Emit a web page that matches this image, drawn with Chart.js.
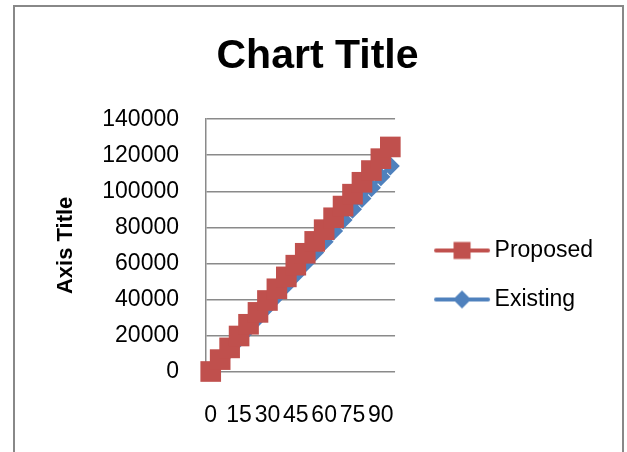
<!DOCTYPE html>
<html lang="en">

<head>
    <meta charset="UTF-8">
    <title>Chart Title</title>
    <script src="https://cdn.jsdelivr.net/npm/chart.js"></script>
    <style>
        body { margin: 0; background: #fff; overflow: hidden; }
        #wrap { position: relative; width: 627px; height: 452px; overflow: hidden; }
        #frame { position: absolute; left: 13px; top: 5px; width: 607px; height: 500px; border: 2px solid #888; }
        #myChart { position: absolute; left: 0; top: 0; }
    </style>
</head>

<body>
    <div id="wrap">
        <div id="frame"></div>
        <canvas id="myChart" width="627" height="452"></canvas>
    </div>
</body>

<script>
    // categories on the x axis, only every 3rd one gets a label
    const categories = ['0', '5', '10', '15', '20', '25', '30', '35', '40', '45',
        '50', '55', '60', '65', '70', '75', '80', '85', '90', '95'];
    const labelEvery = 3;

    const proposed = [0, 6600, 13100, 19700, 26200, 32800, 39400, 45900, 52500, 59000,
        65600, 72200, 78700, 85300, 91800, 98400, 105000, 111500, 118100, 124600];
    const existing = [0, 6000, 12000, 18000, 24000, 30000, 36000, 42000, 48000, 54000,
        60000, 66000, 72000, 78000, 84000, 90000, 96000, 102000, 108000, 114000];

    const yMin = 0;
    const yMax = 140000;
    const yStep = 20000;

    const red = '#C0504D';
    const blue = '#4F81BD';
    const gridColor = '#8a8a8a';

    Chart.defaults.font.family = '"Liberation Sans", Arial, sans-serif';
    Chart.defaults.color = '#000';

    // line + marker swatch for the legend (Excel style)
    function legendIcon(color, shape) {
        let c = document.createElement('canvas');
        c.width = 100;
        c.height = 24;
        let g = c.getContext('2d');
        let cx = 60, cy = 12;
        g.strokeStyle = color;
        g.fillStyle = color;
        g.lineWidth = 4;
        g.lineCap = 'round';
        g.beginPath();
        g.moveTo(cx - 26, cy);
        g.lineTo(cx + 26, cy);
        g.stroke();
        if (shape === 'rect') {
            g.fillRect(cx - 8.5, cy - 8.5, 17, 17);
        } else {
            g.beginPath();
            g.moveTo(cx - 9, cy);
            g.lineTo(cx, cy - 9);
            g.lineTo(cx + 9, cy);
            g.lineTo(cx, cy + 9);
            g.closePath();
            g.fill();
        }
        return c;
    }

    var ctx = document.getElementById('myChart').getContext('2d');
    var myChart = new Chart(ctx, {
        type: 'line',
        data: {
            labels: categories,
            datasets: [{
                label: 'Proposed',
                data: proposed,
                borderColor: red,
                backgroundColor: red,
                borderWidth: 4,
                pointStyle: 'rect',
                pointRadius: 14.6,
                pointBorderWidth: 0,
                tension: 0,
                clip: false
            }, {
                label: 'Existing',
                data: existing,
                borderColor: blue,
                backgroundColor: blue,
                borderWidth: 4,
                pointStyle: 'rectRot',
                pointRadius: 9.5,
                pointBorderWidth: 0,
                tension: 0,
                clip: false
            }]
        },
        options: {
            responsive: false,
            animation: false,
            devicePixelRatio: 1,
            layout: {
                padding: { left: 32, right: 24, top: 0, bottom: 0 }
            },
            plugins: {
                title: {
                    display: true,
                    text: 'Chart Title',
                    color: '#000',
                    font: { size: 41, weight: 'bold', lineHeight: 1.2 },
                    padding: { top: 32, bottom: 38 }
                },
                legend: {
                    position: 'right',
                    maxWidth: 300,
                    title: {
                        display: true,
                        text: ' ',
                        font: { size: 10 },
                        padding: { top: 86, bottom: 0 }
                    },
                    labels: {
                        usePointStyle: true,
                        pointStyleWidth: 62,
                        padding: 26,
                        color: '#000',
                        font: { size: 23 },
                        generateLabels: (chart) => chart.data.datasets.map((ds, i) => ({
                            text: ds.label,
                            datasetIndex: i,
                            hidden: false,
                            lineWidth: 0,
                            fillStyle: ds.backgroundColor,
                            strokeStyle: ds.borderColor,
                            pointStyle: legendIcon(ds.borderColor, ds.pointStyle)
                        }))
                    }
                },
                tooltip: { enabled: false }
            },
            scales: {
                x: {
                    offset: true,
                    grid: { display: false, drawTicks: false },
                    border: { display: false },
                    ticks: {
                        autoSkip: false,
                        maxRotation: 0,
                        padding: 30,
                        font: { size: 23 },
                        callback: (v, i) => (i % labelEvery === 0 ? categories[i] : '')
                    },
                    afterFit: (scale) => { scale.height = 80.5; }
                },
                y: {
                    min: yMin,
                    max: yMax,
                    grid: { color: gridColor, lineWidth: 1.5, drawTicks: false },
                    border: { display: true, color: gridColor, width: 1.5 },
                    ticks: {
                        stepSize: yStep,
                        padding: 27,
                        font: { size: 23 },
                        callback: (v) => String(v)
                    },
                    title: {
                        display: true,
                        text: 'Axis Title',
                        font: { size: 22, weight: 'bold', lineHeight: 1.2 },
                        padding: { top: 21, bottom: 0 }
                    },
                    afterFit: (scale) => { scale.width = 174; }
                }
            }
        }
    });
</script>

</html>
